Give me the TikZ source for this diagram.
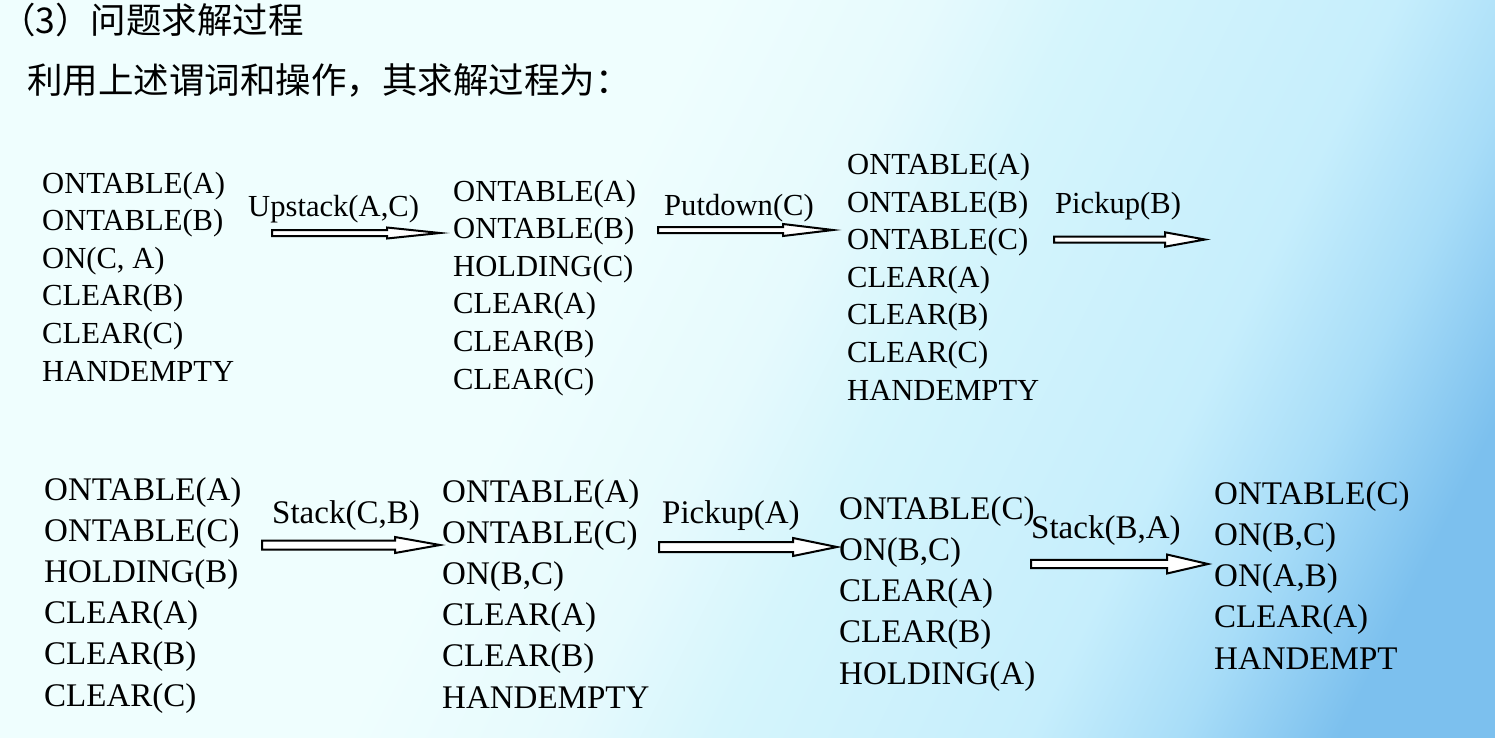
\documentclass[tikz,border=0pt]{standalone}
\usepackage{fontspec}
\setmainfont{Liberation Serif}
\newfontfamily\cjk{Noto Sans CJK SC}
\usetikzlibrary{calc}

\definecolor{bga}{HTML}{EFFEFE}
\definecolor{bgm}{HTML}{E6FAFD}
\definecolor{bgb}{HTML}{D5F5FC}
\definecolor{bgc}{HTML}{C6EEFC}
\definecolor{bgd}{HTML}{A8DDF8}
\definecolor{bge}{HTML}{7CC0EE}
\pgfdeclarehorizontalshading{bgshade}{100bp}{color(0bp)=(bga); color(42bp)=(bga);
  color(50bp)=(bgm); color(55.5bp)=(bgb); color(66.8bp)=(bgc); color(72.3bp)=(bgd);
  color(78bp)=(bge); color(100bp)=(bge)}

\tikzset{
  arrshaft/.store in=\shafthalf, arrheadw/.store in=\headhalf, arrheadl/.store in=\headlen,
  arrshaft=3, arrheadw=6, arrheadl=50,
  hollow/.style={draw=black, fill=white, line width=2pt,
    to path={($(\tikztostart)+(0,-\shafthalf)$) -- ($(\tikztotarget)+(-\headlen,-\shafthalf)$)
      -- ($(\tikztotarget)+(-\headlen,-\headhalf)$) -- (\tikztotarget)
      -- ($(\tikztotarget)+(-\headlen,\headhalf)$) -- ($(\tikztotarget)+(-\headlen,\shafthalf)$)
      -- ($(\tikztostart)+(0,\shafthalf)$) -- cycle}},
  % multi-line nodes sit on the baseline of their last line
  facts/.style={anchor=base west, align=left, inner sep=0pt, font=\fontsize{30.6}{37.6}\selectfont},
  factsb/.style={facts, font=\fontsize{33}{41.2}\selectfont},
  oplabel/.style={anchor=base west, inner sep=0pt, font=\fontsize{30.6}{36}\selectfont},
  oplabelb/.style={oplabel, font=\fontsize{33}{40}\selectfont},
  heading/.style={anchor=base west, inner sep=0pt, font=\cjk\fontsize{35.5}{40}\selectfont}
}

\begin{document}
\begin{tikzpicture}[x=1pt, y=-1pt]

    \useasboundingbox (0,0) rectangle (1495,737);
    \shade[shading=bgshade, shading angle=-26.57] (0,0) rectangle (1495,737);

    % headings
    \node[heading] (ttl) at (0,33) {（3）问题求解过程};
    \node[heading] (intro) at (27,93) {利用上述谓词和操作，其求解过程为：};

    % states, first row
    \node[facts] (s0) at (42,381) {ONTABLE(A)\\ONTABLE(B)\\ON(C, A)\\CLEAR(B)\\CLEAR(C)\\HANDEMPTY};
    \node[facts] (s1) at (453,389) {ONTABLE(A)\\ONTABLE(B)\\HOLDING(C)\\CLEAR(A)\\CLEAR(B)\\CLEAR(C)};
    \node[facts] (s2) at (847,400) {ONTABLE(A)\\ONTABLE(B)\\ONTABLE(C)\\CLEAR(A)\\CLEAR(B)\\CLEAR(C)\\HANDEMPTY};

    % states, second row
    \node[factsb] (s3) at (44,706) {ONTABLE(A)\\ONTABLE(C)\\HOLDING(B)\\CLEAR(A)\\CLEAR(B)\\CLEAR(C)};
    \node[factsb] (s4) at (442,708) {ONTABLE(A)\\ONTABLE(C)\\ON(B,C)\\CLEAR(A)\\CLEAR(B)\\HANDEMPTY};
    \node[factsb] (s5) at (839,684) {ONTABLE(C)\\ON(B,C)\\CLEAR(A)\\CLEAR(B)\\HOLDING(A)};
    \node[factsb] (s6) at (1214,669) {ONTABLE(C)\\ON(B,C)\\ON(A,B)\\CLEAR(A)\\HANDEMPT};

    % operators
    \node[oplabel] (op1) at (248,216) {Upstack(A,C)};
    \node[oplabel] (op2) at (664,215) {Putdown(C)};
    \node[oplabel] (op3) at (1055,213) {Pickup(B)};
    \node[oplabelb] (op4) at (272,523) {Stack(C,B)};
    \node[oplabelb] (op5) at (662,523) {Pickup(A)};
    \node[oplabelb] (op6) at (1031,538) {Stack(B,A)};

    % arrow ends
    \coordinate (a1t) at (272,233);   \coordinate (a1h) at (440,233);
    \coordinate (a2t) at (658,230);   \coordinate (a2h) at (833,230);
    \coordinate (a3t) at (1054,239.5); \coordinate (a3h) at (1205,239.5);
    \coordinate (a4t) at (262,545);   \coordinate (a4h) at (440,545);
    \coordinate (a5t) at (659,547);   \coordinate (a5h) at (837,547);
    \coordinate (a6t) at (1031,564);  \coordinate (a6h) at (1208,564);

    \draw[hollow, arrshaft=3, arrheadw=5.5, arrheadl=53] (a1t) to (a1h);
    \draw[hollow, arrshaft=3, arrheadw=6, arrheadl=50] (a2t) to (a2h);
    \draw[hollow, arrshaft=3, arrheadw=7.2, arrheadl=40] (a3t) to (a3h);
    \draw[hollow, arrshaft=4.5, arrheadw=8, arrheadl=45] (a4t) to (a4h);
    \draw[hollow, arrshaft=5, arrheadw=9, arrheadl=44] (a5t) to (a5h);
    \draw[hollow, arrshaft=4.2, arrheadw=9.5, arrheadl=41] (a6t) to (a6h);
\end{tikzpicture}
\end{document}
